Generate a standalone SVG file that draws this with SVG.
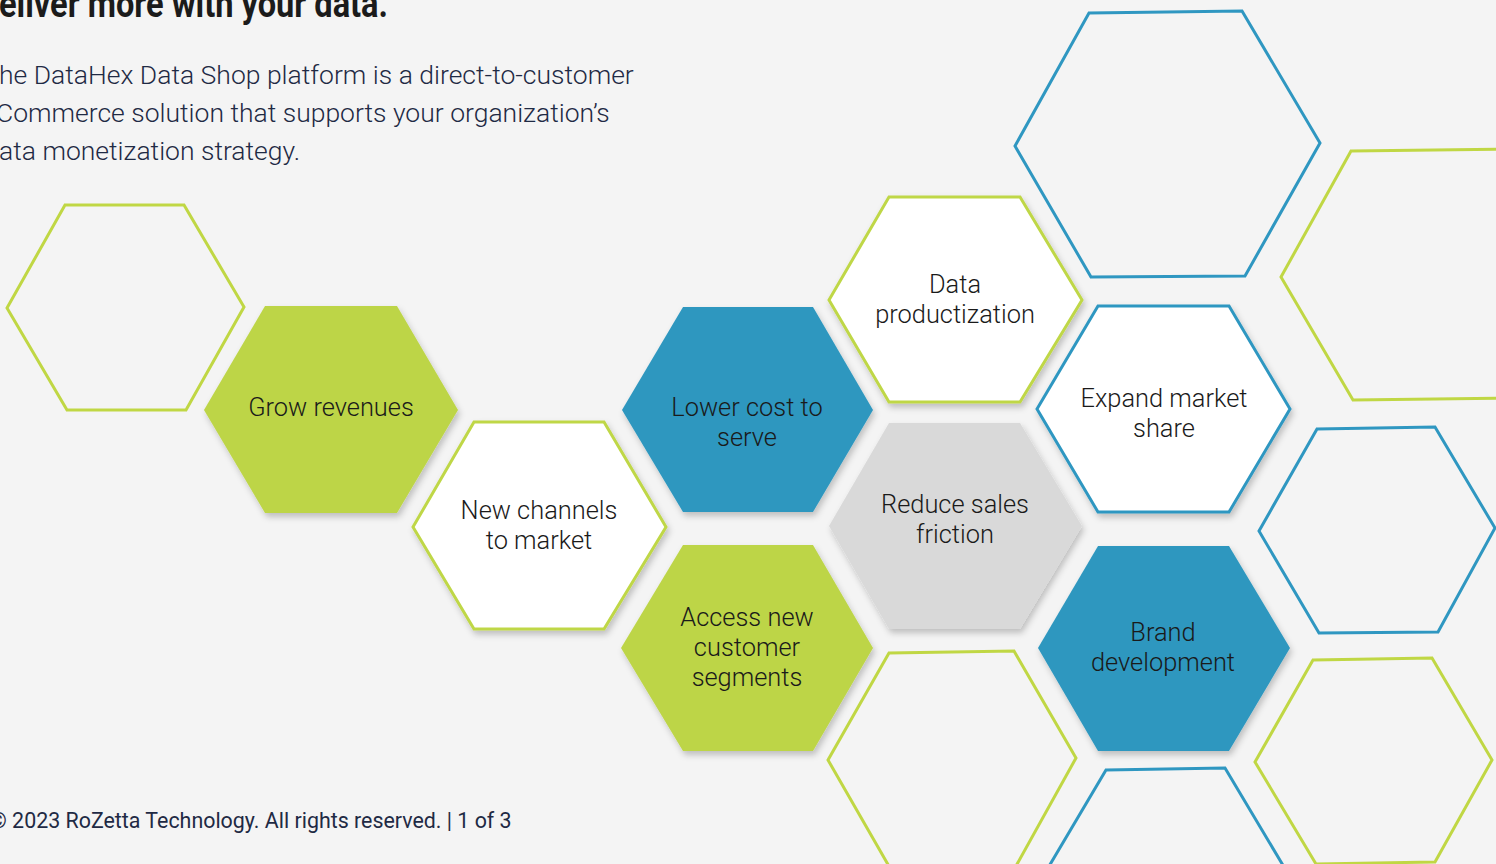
<svg xmlns="http://www.w3.org/2000/svg" width="1496" height="864" viewBox="0 0 1496 864">
<defs>
<filter id="sh" x="-10%" y="-10%" width="125%" height="125%">
<feDropShadow dx="2" dy="4" stdDeviation="3" flood-color="#000" flood-opacity="0.22"/>
</filter>
<style>
.bg{fill:#f4f4f4}
.title{font-family:"Roboto","Liberation Sans",sans-serif;font-weight:700;font-size:38px;fill:#1b1b1b}
.para{font-family:"Roboto","Liberation Sans",sans-serif;font-weight:300;font-size:26.5px;fill:#1f2a44}
.foot{font-family:"Roboto","Liberation Sans",sans-serif;font-weight:400;font-size:21.4px;fill:#1f2a44}
.lbl{font-family:"Roboto","Liberation Sans",sans-serif;font-weight:300;font-size:25.4px;fill:#1a1a1a;text-anchor:middle}
.green{fill:#bdd547;filter:url(#sh)}
.blue{fill:#2e97bf;filter:url(#sh)}
.gray{fill:#d9d9d9;filter:url(#sh)}
.wg{fill:#ffffff;stroke:#bfd746;stroke-width:3;filter:url(#sh)}
.wb{fill:#ffffff;stroke:#2f97c1;stroke-width:3;filter:url(#sh)}
.og{fill:none;stroke:#c0d744;stroke-width:3}
.ob{fill:none;stroke:#2f97c1;stroke-width:3}
</style>
</defs>
<rect class="bg" x="0" y="0" width="1496" height="864"/>
<text class="title" x="-1" y="17" textLength="389" lengthAdjust="spacingAndGlyphs">eliver more with your data.</text>
<g id="intro">
<text class="para" x="-1" y="84">he DataHex Data Shop platform is a direct-to-customer</text>
<text class="para" x="-4" y="122">Commerce solution that supports your organization’s</text>
<text class="para" x="-1" y="160">ata monetization strategy.</text>
</g>
<g id="outline-topleft"><polygon class="og" points="65,205 184,205 244,307 186,410 67,410 7,308"/></g>
<g id="outline-bigblue"><polygon class="ob" points="1089,13 1242,11 1320,143 1245,276 1091,277 1015,146"/></g>
<g id="outline-green-right"><polygon class="og" points="1351,151 1510,149 1590,274 1512,398 1353,400 1281,277"/></g>
<g id="outline-blue-right"><polygon class="ob" points="1317,429 1435,427 1495,528 1438,632 1319,633 1259,531"/></g>
<g id="outline-green-bottomright"><polygon class="og" points="1313,660 1432,658 1492,760 1435,862 1316,864 1255,762"/></g>
<g id="outline-green-bottom"><polygon class="og" points="889,653 1014,651 1076,758 1016,866 890,868 828,760"/></g>
<g id="outline-blue-bottom"><polygon class="ob" points="1106,770 1225,768 1287,872 1225,976 1106,976 1045,873"/></g>
<g id="grow-revenues">
<polygon class="green" points="265,306 397,306 458,410 397,513 265,513 204,410"/>
<text class="lbl" x="331" y="416">Grow revenues</text>
</g>
<g id="new-channels">
<polygon class="wg" points="474,422 604,422 666,527 604,629 474,629 413,527"/>
<text class="lbl" x="539" y="519">New channels</text>
<text class="lbl" x="539" y="549">to market</text>
</g>
<g id="lower-cost">
<polygon class="blue" points="683,307 813,307 873,410 813,512 683,512 622,410"/>
<text class="lbl" x="747" y="416">Lower cost to</text>
<text class="lbl" x="747" y="446">serve</text>
</g>
<g id="access-segments">
<polygon class="green" points="683,545 813,545 873,648 813,751 683,751 621,648"/>
<text class="lbl" x="747" y="626">Access new</text>
<text class="lbl" x="747" y="656">customer</text>
<text class="lbl" x="747" y="686">segments</text>
</g>
<g id="data-productization">
<polygon class="wg" points="889,197 1020,197 1082,300 1020,402 889,402 829,300"/>
<text class="lbl" x="955" y="293">Data</text>
<text class="lbl" x="955" y="323">productization</text>
</g>
<g id="reduce-friction">
<polygon class="gray" points="889,423 1020,423 1082,526 1020,629 889,629 829,526"/>
<text class="lbl" x="955" y="513">Reduce sales</text>
<text class="lbl" x="955" y="543">friction</text>
</g>
<g id="expand-share">
<polygon class="wb" points="1098,306 1229,306 1290,409 1229,512 1098,512 1037,409"/>
<text class="lbl" x="1164" y="407">Expand market</text>
<text class="lbl" x="1164" y="437">share</text>
</g>
<g id="brand-development">
<polygon class="blue" points="1098,546 1229,546 1290,648 1229,751 1098,751 1038,648"/>
<text class="lbl" x="1163" y="641">Brand</text>
<text class="lbl" x="1163" y="671">development</text>
</g>
<g id="footer">
<text class="foot" x="-10" y="828">© 2023 RoZetta Technology. All rights reserved. | 1 of 3</text>
</g>
</svg>
